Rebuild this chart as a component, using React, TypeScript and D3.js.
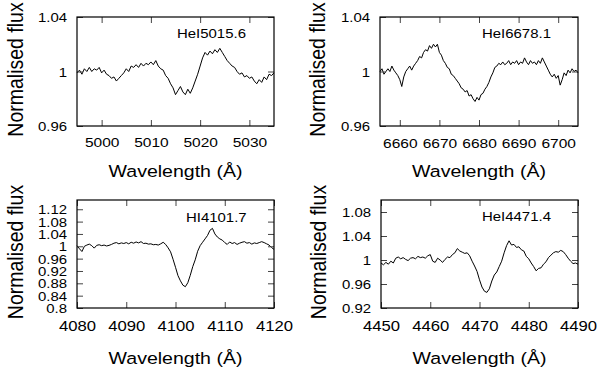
import React, { useEffect, useRef } from 'react';
import * as d3 from 'd3';

const sampleStep = 0.5;

const he5015Start = 4995;
const he5015Flux = [
  0.999, 1.001, 0.998, 1.002, 1.000, 1.003, 1.000, 1.002, 1.001, 1.003,
  0.999, 1.001, 0.998, 0.997, 0.995, 0.996, 0.993, 0.995, 0.997, 0.999,
  1.002, 1.000, 1.004, 1.003, 1.005, 1.003, 1.006, 1.004, 1.006, 1.005,
  1.007, 1.005, 1.008, 1.004, 1.002, 1.001, 0.997, 0.995, 0.991, 0.988,
  0.983, 0.986, 0.989, 0.985, 0.983, 0.987, 0.984, 0.988, 0.993, 0.998,
  1.004, 1.010, 1.014, 1.012, 1.015, 1.013, 1.016, 1.014, 1.017, 1.014,
  1.011, 1.008, 1.006, 1.004, 1.003, 1.000, 0.998, 0.999, 0.996, 0.997,
  0.995, 0.996, 0.993, 0.991, 0.994, 0.992, 0.996, 0.994, 0.998, 0.997,
  0.999,
];

const he6678Start = 6655;
const he6678Flux = [
  1.000, 1.002, 0.998, 1.000, 1.002, 1.000, 1.004, 1.001, 0.999, 0.997,
  0.994, 0.989, 0.996, 1.000, 1.002, 1.004, 1.001, 1.004, 1.006, 1.008,
  1.011, 1.010, 1.014, 1.016, 1.015, 1.019, 1.017, 1.020, 1.018, 1.020,
  1.014, 1.012, 1.008, 1.006, 1.003, 1.002, 0.998, 0.997, 0.995, 0.993,
  0.991, 0.988, 0.987, 0.985, 0.986, 0.982, 0.983, 0.980, 0.978, 0.981,
  0.979, 0.983, 0.984, 0.987, 0.989, 0.992, 0.996, 0.999, 1.003, 1.004,
  1.006, 1.005, 1.007, 1.005, 1.006, 1.008, 1.005, 1.007, 1.006, 1.008,
  1.005, 1.007, 1.006, 1.010, 1.007, 1.005, 1.008, 1.006, 1.007, 1.005,
  1.008, 1.006, 1.010, 1.007, 1.004, 1.001, 0.998, 0.996, 0.998, 0.995,
  0.997, 0.990, 0.994, 0.999, 0.997, 1.001, 0.999, 1.002, 1.000, 1.001,
  0.999,
];

const h4101Start = 4080;
const h4101Flux = [
  1.002, 0.992, 0.983, 1.000, 1.004, 1.007, 1.002, 0.994, 1.003, 1.005,
  1.002, 1.004, 1.001, 1.003, 1.006, 1.010, 1.012, 1.008, 1.011, 1.009,
  1.012, 1.008, 1.013, 1.010, 1.014, 1.011, 1.015, 1.009, 1.010, 1.007,
  1.008, 1.005, 1.006, 1.004, 1.008, 1.013, 1.006, 0.995, 0.982, 0.958,
  0.932, 0.905, 0.888, 0.874, 0.869, 0.882, 0.906, 0.934, 0.956, 0.984,
  1.002, 1.013, 1.024, 1.035, 1.052, 1.058, 1.040, 1.030, 1.024, 1.020,
  1.012, 1.006, 1.014, 1.009, 1.012, 1.006, 1.010, 1.013, 1.015, 1.010,
  1.012, 1.007, 1.011, 1.009, 1.012, 1.015, 1.012, 1.008, 1.004, 0.996,
  0.990,
];

const he4471Start = 4450;
const he4471Flux = [
  0.995, 0.992, 0.996, 0.993, 0.998, 0.995, 1.003, 1.005, 1.002, 1.004,
  1.001, 0.999, 1.003, 1.004, 1.002, 1.006, 1.004, 1.005, 1.003, 1.007,
  1.009, 0.998, 0.996, 1.003, 1.000, 0.996, 1.001, 1.005, 1.004, 1.009,
  1.012, 1.019, 1.015, 1.013, 1.011, 1.012, 1.007, 0.998, 0.990, 0.981,
  0.967, 0.955, 0.948, 0.946, 0.952, 0.965, 0.975, 0.980, 0.989, 0.998,
  1.012, 1.024, 1.032, 1.025, 1.026, 1.021, 1.022, 1.017, 1.015, 1.006,
  1.002, 0.995, 0.989, 0.982, 0.986, 0.987, 0.993, 0.997, 1.004, 1.008,
  1.012, 1.014, 1.013, 1.016, 1.014, 1.009, 1.003, 0.998, 0.994, 0.995,
  0.993,
];

const lineNames = ['HeI5015.6', 'HeI6678.1', 'HI4101.7', 'HeI4471.4'];

const wlTicks5015 = [5000, 5010, 5020, 5030];
const wlTicks6678 = [6660, 6670, 6680, 6690, 6700];
const wlTicks4101 = [4080, 4090, 4100, 4110, 4120];
const wlTicks4471 = [4450, 4460, 4470, 4480, 4490];

const fluxTicksTop = [0.96, 1, 1.04];
const fluxTicksH = [0.8, 0.84, 0.88, 0.92, 0.96, 1, 1.04, 1.08, 1.12];
const fluxTicks4471 = [0.92, 0.96, 1, 1.04, 1.08];

const xTitle = 'Wavelength (Å)';
const yTitle = 'Normalised flux';

const FONT = '"Liberation Sans", Arial, Helvetica, sans-serif';
const SX = 1.15; // the figure's text is a bit wider than the font

const panels = [
  {
    name: lineNames[0], start: he5015Start, flux: he5015Flux,
    xDomain: [4995, 5035], yDomain: [0.96, 1.04], xTicks: wlTicks5015, yTicks: fluxTicksTop,
    box: { l: 77, r: 274, t: 17, b: 126 }, tickBase: 147, titleBase: 177, yTitleX: 23,
    ann: { x: 177, y: 38 }, xFont: 13.5,
  },
  {
    name: lineNames[1], start: he6678Start, flux: he6678Flux,
    xDomain: [6655, 6705], yDomain: [0.96, 1.04], xTicks: wlTicks6678, yTicks: fluxTicksTop,
    box: { l: 380, r: 578, t: 17, b: 126 }, tickBase: 148, titleBase: 177, yTitleX: 325,
    ann: { x: 482, y: 38 }, xFont: 13.5,
  },
  {
    name: lineNames[2], start: h4101Start, flux: h4101Flux,
    xDomain: [4080, 4120], yDomain: [0.8, 1.15], xTicks: wlTicks4101, yTicks: fluxTicksH,
    box: { l: 77, r: 274, t: 200, b: 308 }, tickBase: 331, titleBase: 364, yTitleX: 23,
    ann: { x: 186, y: 222 }, xFont: 14.5,
  },
  {
    name: lineNames[3], start: he4471Start, flux: he4471Flux,
    xDomain: [4450, 4490], yDomain: [0.92, 1.1], xTicks: wlTicks4471, yTicks: fluxTicks4471,
    box: { l: 381, r: 578, t: 200, b: 308 }, tickBase: 331, titleBase: 364, yTitleX: 326,
    ann: { x: 482, y: 221 }, xFont: 14.5,
  },
];

function drawPanel(svg, p) {
  const { l, r, t, b } = p.box;
  const x = d3.scaleLinear().domain(p.xDomain).range([l, r]);
  const y = d3.scaleLinear().domain(p.yDomain).range([b, t]);
  const g = svg.append('g');

  const pts = p.flux.map((f, i) => [p.start + i * sampleStep, f]);
  g.append('path')
    .datum(pts)
    .attr('fill', 'none')
    .attr('stroke', '#000')
    .attr('stroke-width', 1)
    .attr('stroke-linejoin', 'round')
    .attr('d', d3.line().x(d => x(d[0])).y(d => y(d[1])));

  const plain = d => String(d);
  const axes = [
    { axis: d3.axisBottom(x).tickValues(p.xTicks).tickFormat(plain), at: `translate(0,${b})` },
    { axis: d3.axisTop(x).tickValues(p.xTicks).tickFormat(() => ''), at: `translate(0,${t})` },
    { axis: d3.axisLeft(y).tickValues(p.yTicks).tickFormat(plain), at: `translate(${l},0)` },
    { axis: d3.axisRight(y).tickValues(p.yTicks).tickFormat(() => ''), at: `translate(${r},0)` },
  ];
  axes.forEach(({ axis, at }, k) => {
    const a = g.append('g').attr('transform', at).call(axis.tickSize(-6));
    a.select('.domain').remove();
    a.selectAll('line').attr('stroke', '#444');
    a.selectAll('text')
      .attr('fill', '#000')
      .attr('font-family', FONT);
    if (k === 0) {
      a.selectAll('text')
        .attr('font-size', p.xFont)
        .attr('dy', null)
        .attr('y', 0)
        .attr('transform', `translate(0,${p.tickBase - b}) scale(${SX},1)`);
    }
    if (k === 2) {
      a.selectAll('text')
        .attr('font-size', 13)
        .attr('dy', '0.35em')
        .attr('x', 0)
        .attr('transform', `translate(-10,0) scale(${SX},1)`);
    }
  });

  g.append('rect')
    .attr('x', l).attr('y', t)
    .attr('width', r - l).attr('height', b - t)
    .attr('fill', 'none')
    .attr('stroke', '#000')
    .attr('stroke-width', 1.2);

  g.append('text')
    .attr('transform', `translate(${p.ann.x},${p.ann.y}) scale(${SX},1)`)
    .attr('font-family', FONT)
    .attr('font-size', 13)
    .text(p.name);

  g.append('text')
    .attr('transform', `translate(${(l + r) / 2},${p.titleBase}) scale(${SX},1)`)
    .attr('text-anchor', 'middle')
    .attr('font-family', FONT)
    .attr('font-size', 17)
    .text(xTitle);

  g.append('text')
    .attr('transform', `translate(${p.yTitleX},${(t + b) / 2 - 2}) scale(${SX},1) rotate(-90)`)
    .attr('text-anchor', 'middle')
    .attr('font-family', FONT)
    .attr('font-size', 19.5)
    .text(yTitle);
}

export default function App() {
  const ref = useRef(null);

  useEffect(() => {
    const svg = d3.select(ref.current);
    svg.selectAll('*').remove();
    panels.forEach(p => drawPanel(svg, p));
  }, []);

  return (
    <svg
      ref={ref}
      width={600}
      height={369}
      style={{ position: 'absolute', left: 0, top: 0, background: '#fff' }}
    />
  );
}
